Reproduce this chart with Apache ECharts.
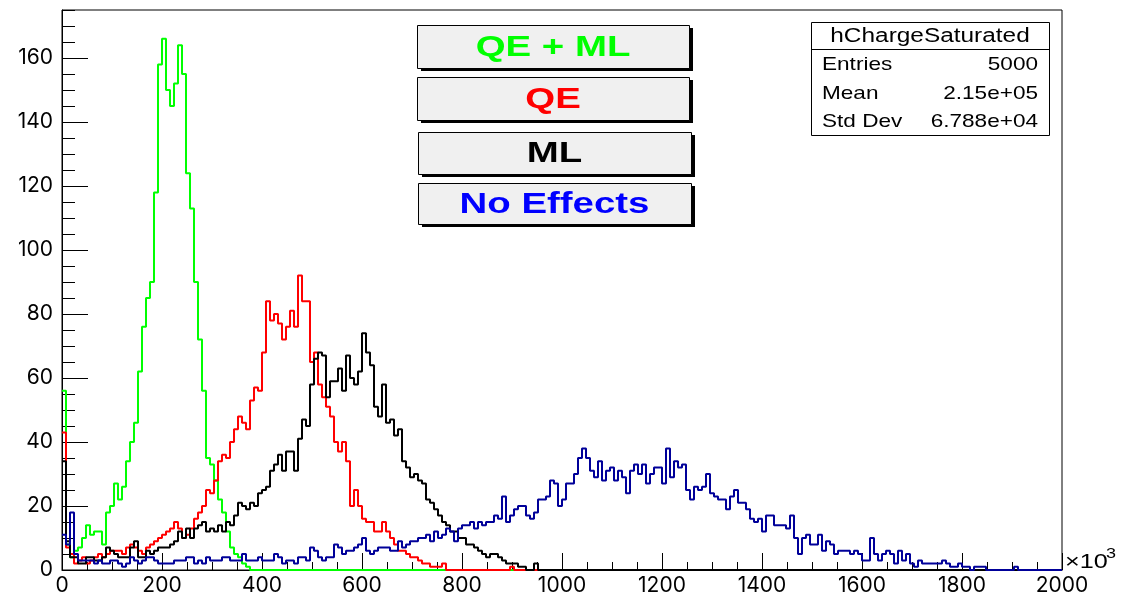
<!DOCTYPE html>
<html>
<head>
<meta charset="utf-8">
<script src="https://cdn.jsdelivr.net/npm/echarts@6/dist/echarts.min.js"></script>
<style>
  html, body { margin: 0; padding: 0; background: #ffffff; }
  #chart { width: 1121px; height: 597px; }
</style>
</head>
<body>
<div id="chart"></div>
<script>
// Histogram binning (charge in units of 10^3)
const BIN_WIDTH = 8;
const N_BINS = 250;

// Bin contents, starting at charge 0; bins past the end of each list are empty
const qeMlCounts = [
  56, 8, 4, 6, 7, 10, 14, 11, 12, 12, 8, 18, 20, 27, 22, 26, 34, 40, 46, 62,
  76, 85, 90, 118, 158, 166, 150, 145, 152, 164, 155, 124, 113, 90, 72, 56, 35, 33, 28, 22,
  18, 12, 7, 5, 4, 2, 1
];
const qeCounts = [
  43, 7, 5, 2, 3, 4, 2, 3, 4, 5, 4, 5, 6, 6, 6, 5, 7, 8, 7, 6,
  5, 7, 8, 9, 10, 11, 12, 13, 15, 13, 10, 11, 13, 16, 18, 20, 25, 24, 28, 34,
  36, 35, 40, 44, 48, 46, 44, 53, 57, 56, 68, 84, 78, 80, 77, 72, 76, 81, 76, 92,
  84, 84, 65, 68, 58, 54, 51, 48, 40, 37, 40, 34, 20, 25, 20, 16, 15, 15, 12, 12,
  15, 12, 10, 8, 6, 6, 5, 4, 4, 3, 2, 2, 1, 1, 1, 2, 0, 0, 0, 0,
  0, 0, 0, 0, 0, 0, 0, 0, 0, 0, 0, 0, 1
];
const mlCounts = [
  34, 9, 4, 4, 2, 2, 4, 4, 3, 3, 4, 7, 6, 5, 4, 4, 4, 7, 9, 4,
  4, 6, 5, 6, 7, 7, 7, 8, 9, 12, 10, 13, 10, 13, 14, 15, 12, 13, 12, 14,
  12, 15, 14, 17, 21, 20, 19, 21, 20, 24, 25, 26, 31, 33, 36, 31, 37, 37, 31, 41,
  47, 45, 58, 66, 68, 67, 54, 59, 59, 63, 56, 67, 60, 58, 62, 74, 68, 64, 51, 48,
  58, 46, 47, 42, 44, 34, 32, 29, 30, 28, 27, 22, 21, 19, 17, 15, 14, 12, 12, 10,
  10, 8, 8, 7, 6, 5, 4, 5, 5, 4, 3, 2, 2, 2, 1, 1, 0, 0, 2
];
const noEffectsCounts = [
  11, 8, 18, 5, 3, 3, 3, 3, 2, 3, 2, 2, 3, 3, 2, 1, 2, 4, 3, 2,
  3, 4, 4, 3, 2, 2, 2, 2, 3, 3, 3, 4, 4, 2, 3, 2, 4, 3, 3, 3,
  4, 4, 3, 3, 3, 5, 3, 3, 3, 4, 3, 3, 3, 5, 4, 2, 3, 3, 2, 4,
  4, 3, 7, 6, 4, 3, 4, 4, 8, 7, 5, 6, 6, 7, 8, 10, 6, 5, 6, 7,
  7, 7, 6, 6, 9, 7, 8, 9, 9, 10, 10, 11, 9, 12, 10, 11, 13, 12, 9, 13,
  14, 14, 15, 13, 15, 14, 15, 15, 17, 16, 23, 15, 17, 19, 20, 20, 17, 16, 18, 22,
  22, 23, 28, 27, 20, 22, 27, 27, 30, 35, 38, 35, 31, 29, 34, 28, 31, 32, 28, 31,
  29, 24, 31, 33, 30, 33, 27, 30, 32, 32, 27, 38, 29, 34, 32, 33, 25, 22, 26, 25,
  26, 30, 24, 23, 22, 22, 19, 23, 25, 21, 21, 19, 16, 15, 16, 12, 17, 17, 14, 14,
  14, 13, 17, 10, 5, 10, 11, 8, 8, 11, 6, 9, 8, 5, 6, 6, 6, 5, 6, 5,
  3, 3, 10, 5, 3, 5, 6, 5, 2, 6, 3, 5, 2, 1, 3, 2, 2, 2, 2, 2,
  3, 2, 1, 1, 2, 1, 1, 0, 1, 1, 1, 0, 0, 0, 0, 0, 0, 0, 1
];

const seriesNames = ['QE + ML', 'QE', 'ML', 'No Effects'];
const seriesCounts = [qeMlCounts, qeCounts, mlCounts, noEffectsCounts];
const lineColors = ['#00ff00', '#ff0000', '#000000', '#000099'];
const labelColors = ['#00ff00', '#ff0000', '#000000', '#0000ff'];

const statsTitle = 'hChargeSaturated';
const statsLabels = ['Entries', 'Mean', 'Std Dev'];
const statsValues = ['5000', '2.15e+05', '6.788e+04'];
const xUnitText = '\u00d710';
const xUnitExponent = '3';

// Step points at bin low edges, closed at the upper edge of the last bin
function histPoints(counts) {
  const pts = [];
  for (let i = 0; i < N_BINS; i++) {
    pts.push([i * BIN_WIDTH, i < counts.length ? counts[i] : 0]);
  }
  pts.push([N_BINS * BIN_WIDTH, 0]);
  return pts;
}

const FONT = '"Liberation Sans", Arial, Helvetica, sans-serif';
const AXIS_FONT = 'Inter, "Liberation Sans", sans-serif';
const STRETCH = 1.22;

function stretchedText(text, x, y, size, color, align, weight, scale) {
  return {
    type: 'text', x: x, y: y, scaleX: scale || STRETCH, z: 100,
    style: {
      text: text, x: 0, y: 0, fill: color,
      fontFamily: FONT, fontSize: size, fontWeight: weight || 'normal',
      align: align, verticalAlign: 'middle'
    }
  };
}

// Label panes in the upper middle of the frame
const paneBoxes = [
  { x: 417, y: 25, w: 272, h: 43 },
  { x: 417, y: 77, w: 272, h: 43 },
  { x: 418, y: 132, w: 273, h: 42 },
  { x: 418, y: 183, w: 273, h: 41 }
];
const graphics = [];
paneBoxes.forEach(function (b, i) {
  graphics.push({
    type: 'rect', z: 98,
    shape: { x: b.x + 4, y: b.y + 3, width: b.w, height: b.h },
    style: { fill: '#000000' }
  });
  graphics.push({
    type: 'rect', z: 99,
    shape: { x: b.x + 0.5, y: b.y + 0.5, width: b.w, height: b.h },
    style: { fill: '#f0f0f0', stroke: '#000000', lineWidth: 1 }
  });
  graphics.push(stretchedText(seriesNames[i], b.x + b.w / 2, b.y + b.h / 2 + 1, 30,
    labelColors[i], 'center', 'bold', 1.28));
});

// Statistics box
const stats = { x: 811, y: 22, w: 238, h: 113, titleH: 27 };
graphics.push({
  type: 'rect', z: 99,
  shape: { x: stats.x + 0.5, y: stats.y + 0.5, width: stats.w, height: stats.h },
  style: { fill: '#ffffff', stroke: '#000000', lineWidth: 1 }
});
graphics.push({
  type: 'line', z: 99,
  shape: { x1: stats.x, y1: stats.y + stats.titleH + 0.5, x2: stats.x + stats.w, y2: stats.y + stats.titleH + 0.5 },
  style: { stroke: '#000000', lineWidth: 1 }
});
graphics.push(stretchedText(statsTitle, stats.x + stats.w / 2, stats.y + 14, 20, '#000', 'center'));
statsLabels.forEach(function (lab, i) {
  const cy = stats.y + 43 + i * 28.5;
  graphics.push(stretchedText(lab, stats.x + 11, cy, 18.5, '#000', 'left'));
  graphics.push(stretchedText(statsValues[i], stats.x + stats.w - 11, cy, 18.5, '#000', 'right'));
});

// Axis multiplier at the end of the x axis
graphics.push(stretchedText(xUnitText, 1065, 562, 21, '#000', 'left', 'normal', 1.2));
graphics.push(stretchedText(xUnitExponent, 1106, 554, 15, '#000', 'left', 'normal', 1.2));

const chart = echarts.init(document.getElementById('chart'), null, { renderer: 'canvas' });

chart.setOption({
  animation: false,
  backgroundColor: '#ffffff',
  grid: {
    left: 62, right: 59, top: 10, bottom: 27,
    show: true, borderColor: '#000000', borderWidth: 1,
    containLabel: false, outerBoundsMode: 'none'
  },
  xAxis: {
    type: 'value', min: 0, max: 2000, interval: 200,
    axisLine: { show: true, onZero: false, lineStyle: { color: '#000000', width: 1 } },
    axisTick: { show: true, inside: true, length: 17, lineStyle: { color: '#000000', width: 1 } },
    minorTick: { show: true, splitNumber: 4, length: 8, lineStyle: { color: '#000000', width: 1 } },
    splitLine: { show: false },
    axisLabel: {
      color: '#000000', fontFamily: AXIS_FONT, fontSize: 21, margin: 5,
      formatter: function (v) { return String(v); }
    }
  },
  yAxis: [
    {
      type: 'value', min: 0, max: 175, interval: 20, position: 'left',
      axisLine: { show: true, onZero: false, lineStyle: { color: '#000000', width: 1 } },
      axisTick: { show: true, inside: true, length: 26, lineStyle: { color: '#000000', width: 1 } },
      splitLine: { show: false },
      axisLabel: {
        color: '#000000', fontFamily: AXIS_FONT, fontSize: 21, margin: 9,
        showMaxLabel: false,
        formatter: function (v) { return v % 20 === 0 ? String(v) : ''; }
      }
    },
    {
      type: 'value', min: 0, max: 175, interval: 5, position: 'left',
      axisLine: { show: false },
      axisTick: { show: true, inside: true, length: 13, lineStyle: { color: '#000000', width: 1 } },
      splitLine: { show: false },
      axisLabel: { show: false }
    }
  ],
  series: seriesNames.map(function (name, i) {
    return {
      name: name,
      type: 'line',
      step: 'end',
      yAxisIndex: 0,
      data: histPoints(seriesCounts[i]),
      showSymbol: false,
      symbol: 'none',
      clip: true,
      lineStyle: { color: lineColors[i], width: 2 },
      itemStyle: { color: lineColors[i] },
      emphasis: { disabled: true },
      z: 2 + i
    };
  }),
  graphic: graphics
});
</script>
</body>
</html>
